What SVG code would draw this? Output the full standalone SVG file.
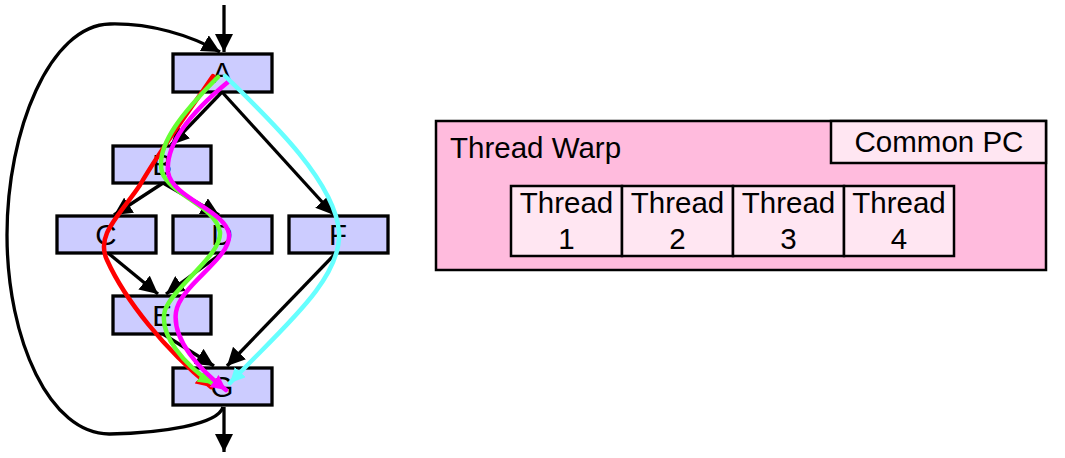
<svg xmlns="http://www.w3.org/2000/svg" width="1065" height="458" viewBox="0 0 1065 458">
<style>
.node rect{fill:#ccccff;stroke:#000;stroke-width:3.3}
.lbl{font-family:"Liberation Sans",Arial,sans-serif;font-size:29.5px;fill:#000;text-anchor:middle}
.edge{fill:none;stroke:#000;stroke-width:3.3;marker-end:url(#ah)}
.thr{fill:none;stroke-width:4.5;stroke-linecap:round}
.box{fill:#ffe6f2;stroke:#000;stroke-width:2.5}
</style>
<defs>
<marker id="ah" viewBox="0 0 10 10" refX="10" refY="5" markerWidth="18" markerHeight="18" markerUnits="userSpaceOnUse" orient="auto"><path d="M0,0 L10,5 L0,10 z" fill="#000"/></marker>
<marker id="ar" viewBox="0 0 10 10" refX="10" refY="5" markerWidth="15" markerHeight="15" markerUnits="userSpaceOnUse" orient="auto"><path d="M0,0 L10,5 L0,10 z" fill="#ff0000"/></marker>
<marker id="ag" viewBox="0 0 10 10" refX="10" refY="5" markerWidth="15" markerHeight="15" markerUnits="userSpaceOnUse" orient="auto"><path d="M0,0 L10,5 L0,10 z" fill="#66ff33"/></marker>
<marker id="am" viewBox="0 0 10 10" refX="10" refY="5" markerWidth="15" markerHeight="15" markerUnits="userSpaceOnUse" orient="auto"><path d="M0,0 L10,5 L0,10 z" fill="#ff00ff"/></marker>
<marker id="ac" viewBox="0 0 10 10" refX="10" refY="5" markerWidth="15" markerHeight="15" markerUnits="userSpaceOnUse" orient="auto"><path d="M0,0 L10,5 L0,10 z" fill="#66ffff"/></marker>
</defs>
<rect width="1065" height="458" fill="#fff"/>
<g id="node-A" class="node"><rect x="173" y="54" width="99" height="38"/><text class="lbl" x="222" y="83">A</text></g>
<g id="node-B" class="node"><rect x="113" y="146" width="98" height="37"/><text class="lbl" x="162" y="175">B</text></g>
<g id="node-C" class="node"><rect x="57" y="216" width="99" height="37"/><text class="lbl" x="106" y="245">C</text></g>
<g id="node-D" class="node"><rect x="173" y="216" width="99" height="37"/><text class="lbl" x="222" y="245">D</text></g>
<g id="node-F" class="node"><rect x="289" y="216" width="99" height="37"/><text class="lbl" x="338" y="245">F</text></g>
<g id="node-E" class="node"><rect x="113" y="296" width="98" height="38"/><text class="lbl" x="162" y="326">E</text></g>
<g id="node-G" class="node"><rect x="173" y="368" width="99" height="37"/><text class="lbl" x="222" y="397">G</text></g>
<g id="connectors">
<path class="edge" d="M224,5 L224,52"/>
<path class="edge" d="M223,407 C218,425 160,433 110,434 C50,435 7,340 7,235 C7,130 50,25 110,24 C150,23 190,35 220,52"/>
<path class="edge" d="M224,407 L224,452"/>
<path class="edge" d="M222,92 L171,145"/>
<path class="edge" d="M222,92 L334,215"/>
<path class="edge" d="M163,183 L114,215"/>
<path class="edge" d="M163,183 L219,215"/>
<path class="edge" d="M108,253 L158,294"/>
<path class="edge" d="M222,253 L166,294"/>
<path class="edge" d="M163,334 L214,366"/>
<path class="edge" d="M334,255 L227,366"/>
<path class="thr" stroke="#ff0000" marker-end="url(#ar)" d="M213,76 C190,110 160,150 140,185 C120,215 95,235 107,260 C125,300 165,350 211,387"/>
<path class="thr" stroke="#66ff33" marker-end="url(#ag)" d="M218,77 C185,110 155,145 162,172 C170,195 215,205 220,232 C222,255 175,285 165,310 C158,335 185,365 213,384"/>
<path class="thr" stroke="#ff00ff" marker-end="url(#am)" d="M228,82 C200,105 165,140 168,172 C172,198 225,210 229,234 C232,258 180,285 176,312 C172,340 200,370 226,390"/>
<path class="thr" stroke="#66ffff" marker-end="url(#ac)" d="M225,76 C265,115 335,180 339,232 C342,280 280,330 230,383"/>
</g>
<g id="warp">
<rect x="436" y="121" width="610" height="149" fill="#ffbbdd" stroke="#000" stroke-width="2.5"/>
<text class="lbl" x="450" y="158" style="text-anchor:start">Thread Warp</text>
</g>
<g id="common-pc"><rect class="box" x="831" y="121" width="215" height="42"/><text class="lbl" x="939" y="152">Common PC</text></g>
<g id="thread-1"><rect class="box" x="511" y="186" width="111" height="70"/><text class="lbl" x="566.5" y="213">Thread</text><text class="lbl" x="566.5" y="249">1</text></g>
<g id="thread-2"><rect class="box" x="622" y="186" width="111" height="70"/><text class="lbl" x="677.5" y="213">Thread</text><text class="lbl" x="677.5" y="249">2</text></g>
<g id="thread-3"><rect class="box" x="733" y="186" width="111" height="70"/><text class="lbl" x="788.5" y="213">Thread</text><text class="lbl" x="788.5" y="249">3</text></g>
<g id="thread-4"><rect class="box" x="844" y="186" width="110" height="70"/><text class="lbl" x="899" y="213">Thread</text><text class="lbl" x="899" y="249">4</text></g>
</svg>
